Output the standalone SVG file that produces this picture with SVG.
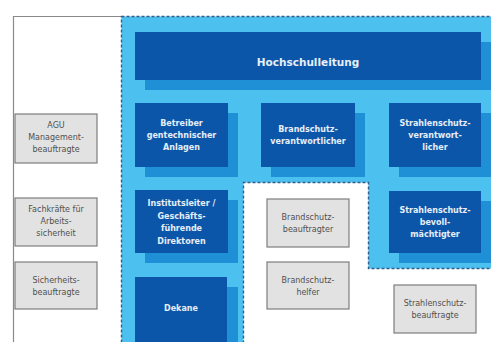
<svg xmlns="http://www.w3.org/2000/svg" width="491" height="342" viewBox="0 0 491 342">
  <style>
    .frame { fill: none; stroke: #8a8a8a; stroke-width: 1.2; }
    .zone { fill: #4cc0ef; stroke: #2f5f8c; stroke-width: 1.4; stroke-dasharray: 3 2; }
    .shadow { fill: #1f8fd6; }
    .org { fill: #0b56a8; }
    .ext { fill: #e2e2e2; stroke: #7d7d7d; stroke-width: 1.2; }
    .lt { font-family: "DejaVu Sans", sans-serif; font-size: 8px; font-weight: bold; fill: #e6eef8; text-anchor: middle; }
    .lg { font-family: "DejaVu Sans", sans-serif; font-size: 8px; fill: #505050; text-anchor: middle; }
    .title { font-family: "DejaVu Sans", sans-serif; font-size: 10.5px; font-weight: bold; fill: #e6eef8; text-anchor: middle; }
  </style>

  <rect width="491" height="342" fill="#ffffff"/>

  <!-- outer frame -->
  <path class="frame" d="M13.5,342 V16.5 H121"/>

  <!-- university area with cut-out -->
  <path class="zone" d="M121.5,16.5 H492 V268.5 H368.5 V182.5 H243.5 V343 H121.5 Z"/>

  <g id="hochschulleitung">
    <rect class="shadow" x="145" y="42" width="346" height="48"/>
    <rect class="org" x="135" y="32" width="346" height="48"/>
    <text class="title" x="308" y="66">Hochschulleitung</text>
  </g>

  <g id="betreiber">
    <rect class="shadow" x="145" y="113" width="93" height="64"/>
    <rect class="org" x="135" y="103" width="93" height="64"/>
    <text class="lt" x="181.5" y="126">Betreiber</text>
    <text class="lt" x="181.5" y="138">gentechnischer</text>
    <text class="lt" x="181.5" y="150">Anlagen</text>
  </g>

  <g id="brandschutzverantwortlicher">
    <rect class="shadow" x="271" y="113" width="94" height="64"/>
    <rect class="org" x="261" y="103" width="94" height="64"/>
    <text class="lt" x="308" y="132">Brandschutz-</text>
    <text class="lt" x="308" y="144">verantwortlicher</text>
  </g>

  <g id="strahlenschutzverantwortlicher">
    <rect class="shadow" x="399" y="113" width="92" height="64"/>
    <rect class="org" x="389" y="103" width="92" height="64"/>
    <text class="lt" x="435" y="126">Strahlenschutz-</text>
    <text class="lt" x="435" y="138">verantwort-</text>
    <text class="lt" x="435" y="150">licher</text>
  </g>

  <g id="institutsleiter">
    <rect class="shadow" x="145" y="200" width="93" height="63"/>
    <rect class="org" x="135" y="190" width="93" height="63"/>
    <text class="lt" x="181.5" y="206">Institutsleiter /</text>
    <text class="lt" x="181.5" y="218.5">Geschäfts-</text>
    <text class="lt" x="181.5" y="231">führende</text>
    <text class="lt" x="181.5" y="243.5">Direktoren</text>
  </g>

  <g id="strahlenschutzbevollmaechtigter">
    <rect class="shadow" x="399" y="201" width="92" height="62"/>
    <rect class="org" x="389" y="191" width="92" height="62"/>
    <text class="lt" x="435" y="213">Strahlenschutz-</text>
    <text class="lt" x="435" y="225">bevoll-</text>
    <text class="lt" x="435" y="237">mächtigter</text>
  </g>

  <g id="dekane">
    <rect class="shadow" x="145" y="287" width="93" height="60"/>
    <rect class="org" x="135" y="277" width="92" height="70"/>
    <text class="lt" x="181" y="311">Dekane</text>
  </g>

  <g id="agu">
    <rect class="ext" x="15" y="114" width="82" height="49"/>
    <text class="lg" x="56" y="128">AGU</text>
    <text class="lg" x="56" y="140">Management-</text>
    <text class="lg" x="56" y="152">beauftragte</text>
  </g>

  <g id="fachkraefte">
    <rect class="ext" x="15" y="198" width="82" height="48"/>
    <text class="lg" x="56" y="212">Fachkräfte für</text>
    <text class="lg" x="56" y="224">Arbeits-</text>
    <text class="lg" x="56" y="236">sicherheit</text>
  </g>

  <g id="sicherheitsbeauftragte">
    <rect class="ext" x="15" y="262" width="82" height="47"/>
    <text class="lg" x="56" y="283">Sicherheits-</text>
    <text class="lg" x="56" y="295">beauftragte</text>
  </g>

  <g id="brandschutzbeauftragter">
    <rect class="ext" x="267" y="199" width="82" height="48"/>
    <text class="lg" x="308" y="220">Brandschutz-</text>
    <text class="lg" x="308" y="232">beauftragter</text>
  </g>

  <g id="brandschutzhelfer">
    <rect class="ext" x="267" y="262" width="82" height="47"/>
    <text class="lg" x="308" y="283">Brandschutz-</text>
    <text class="lg" x="308" y="295">helfer</text>
  </g>

  <g id="strahlenschutzbeauftragte">
    <rect class="ext" x="394" y="285" width="82" height="48"/>
    <text class="lg" x="435" y="306">Strahlenschutz-</text>
    <text class="lg" x="435" y="318">beauftragte</text>
  </g>

  <g id="connectors"></g>
</svg>
